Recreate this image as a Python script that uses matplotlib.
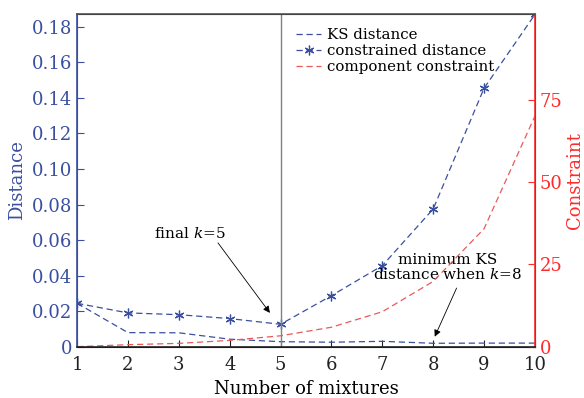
import numpy as np
import matplotlib.pyplot as plt

plt.rcParams['font.family'] = 'DejaVu Serif'
plt.rcParams['mathtext.fontset'] = 'dejavuserif'

k = [1, 2, 3, 4, 5, 6, 7, 8, 9, 10]
ks_distance = [0.0244, 0.0079, 0.0078, 0.0042, 0.0028, 0.0025, 0.0030, 0.0019, 0.0020, 0.0020]
constrained_distance = [0.0244, 0.0190, 0.0180, 0.0158, 0.0126, 0.0287, 0.0456, 0.0775, 0.1455, 0.1870]
component_constraint = [0.0, 0.6, 1.0, 1.9, 3.3, 5.9, 10.6, 19.8, 35.8, 70.0]

blue = '#3a4fa0'
red = '#ff2a2a'
lightred = '#e85a5a'

fig = plt.figure(figsize=(5.84, 3.98), dpi=100)
ax = fig.add_axes([0.132, 0.129, 0.784, 0.836])
ax2 = ax.twinx()

l1, = ax.plot(k, ks_distance, '--', color=blue, lw=0.9, dashes=(5, 3), label='KS distance')
l2, = ax.plot(k, constrained_distance, '--', color=blue, lw=0.9, dashes=(5, 3),
              marker=(6, 2, 0), ms=7, mew=0.9, label='constrained distance')
l3, = ax2.plot(k, component_constraint, '--', color=lightred, lw=0.9, dashes=(5, 3),
               label='component constraint')

ax.axvline(5, color='#808080', lw=1)

ax.set_xlim(1, 10)
ax.set_ylim(0, 0.1873)
ax2.set_ylim(0, 101)
ax.set_xticks(k)
ax.set_yticks([0, 0.02, 0.04, 0.06, 0.08, 0.10, 0.12, 0.14, 0.16, 0.18])
ax.set_yticklabels(['0', '0.02', '0.04', '0.06', '0.08', '0.10', '0.12', '0.14', '0.16', '0.18'])
ax2.set_yticks([0, 25, 50, 75])

ax.tick_params(axis='x', direction='in', labelsize=13, length=5, pad=7, colors='#222222')
ax.tick_params(axis='y', direction='in', labelsize=13, length=5, colors=blue)
ax2.tick_params(axis='y', direction='in', labelsize=13, length=5, colors=red)

ax.spines['left'].set_color(blue)
ax2.spines['left'].set_color(blue)
ax2.spines['right'].set_color(red)
ax2.spines['top'].set_color('#555555')
ax2.spines['bottom'].set_color('#222222')
for s in ax2.spines.values():
    s.set_linewidth(1.2)

ax.set_xlabel('Number of mixtures', fontsize=13, labelpad=4)
ax.set_ylabel('Distance', fontsize=13, color=blue, labelpad=4)
ax2.set_ylabel('Constraint', fontsize=13, color=red)
ax2.yaxis.set_label_coords(1.068, 0.5)

# annotations: text and arrows placed separately
ax.text(3.22, 0.0635, 'final $k$=5', fontsize=11, ha='center', va='center')
ax.annotate('', xy=(4.79, 0.019), xytext=(3.77, 0.0584),
            arrowprops=dict(arrowstyle='-|>', color='black', lw=0.6, shrinkA=0, shrinkB=0))
ax.text(8.29, 0.0445, 'minimum KS\ndistance when $k$=8', fontsize=11,
        ha='center', va='center', linespacing=0.95)
ax.annotate('', xy=(8.03, 0.0056), xytext=(8.46, 0.033),
            arrowprops=dict(arrowstyle='-|>', color='black', lw=0.6, shrinkA=0, shrinkB=0))

ax.legend(handles=[l1, l2, l3], loc='upper left', bbox_to_anchor=(0.478, 0.958),
          frameon=False, fontsize=10.8, handlelength=1.7, handletextpad=0.35,
          labelspacing=0.15, borderaxespad=0, borderpad=0)

fig.savefig('out.png', dpi=100)
